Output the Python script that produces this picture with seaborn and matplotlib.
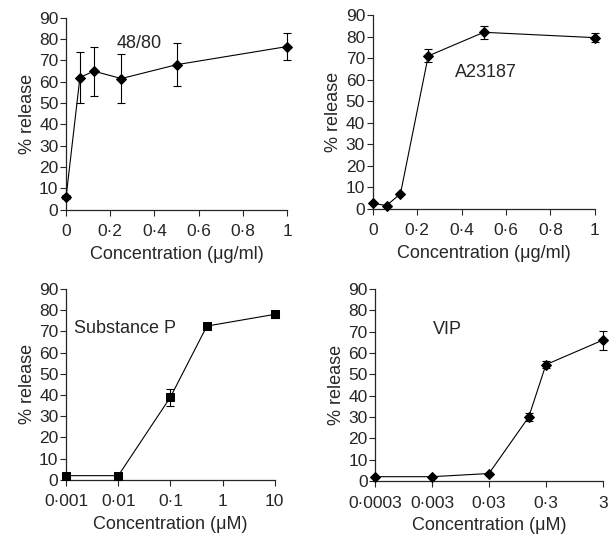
import seaborn as sns
import matplotlib.pyplot as plt
import pandas as pd

# 48/80
c4880 = [0, 0.0625, 0.125, 0.25, 0.5, 1]
r4880 = [6, 62, 65, 61.5, 68, 76.5]
e4880 = [1, 12, 11.5, 11.5, 10, 6.5]

# A23187
ca23 = [0, 0.0625, 0.125, 0.25, 0.5, 1]
ra23 = [2.5, 1.5, 7, 71, 82, 79.5]
ea23 = [0, 0, 0, 3, 3, 2]

# Substance P
csp = [0.001, 0.01, 0.1, 0.5, 10]
rsp = [2, 2, 39, 72.5, 78]
esp = [0, 0, 4, 0, 1.5]

# VIP
cvip = [0.0003, 0.003, 0.03, 0.15, 0.3, 3]
rvip = [2, 2, 3.5, 30, 54.5, 66]
evip = [0, 0, 0, 2, 1.5, 4.5]

lin_ticks = [0, 0.2, 0.4, 0.6, 0.8, 1]
lin_labels = ['0', '0·2', '0·4', '0·6', '0·8', '1']
sp_ticks = [0.001, 0.01, 0.1, 1, 10]
sp_labels = ['0·001', '0·01', '0·1', '1', '10']
vip_ticks = [0.0003, 0.003, 0.03, 0.3, 3]
vip_labels = ['0·0003', '0·003', '0·03', '0·3', '3']

sns.set_style("ticks")
plt.rcParams['font.family'] = ['Liberation Sans', 'DejaVu Sans']
plt.rcParams['font.size'] = 13

FS = 13

fig = plt.figure(figsize=(6.12, 5.38), dpi=100)
ax1 = fig.add_axes([0.108, 0.610, 0.361, 0.357])
ax2 = fig.add_axes([0.609, 0.612, 0.363, 0.360])
ax3 = fig.add_axes([0.108, 0.108, 0.341, 0.355])
ax4 = fig.add_axes([0.613, 0.106, 0.372, 0.357])


def panel(ax, x, y, e, marker, ms, label, lx, ly, log=False):
    df = pd.DataFrame({'x': x, 'y': y})
    sns.lineplot(data=df, x='x', y='y', ax=ax, color='black', lw=0.8,
                 marker=marker, markersize=ms, markeredgecolor='black',
                 clip_on=False, zorder=3)
    ax.errorbar(x, y, yerr=e, fmt='none', ecolor='black', elinewidth=0.8,
                capsize=3, capthick=0.8, clip_on=False)
    if log:
        ax.set_xscale('log')
        ax.minorticks_off()
    ax.set_ylim(0, 90)
    ax.set_yticks(range(0, 91, 10))
    ax.set_ylabel('% release', fontsize=FS, labelpad=2.5)
    ax.text(lx, ly, label, fontsize=FS, transform=ax.transData)
    ax.tick_params(length=4, width=0.8, labelsize=12.5)
    ax.tick_params(axis='y', pad=1.5)
    ax.tick_params(axis='x', pad=6.5)
    for s in ['left', 'bottom']:
        ax.spines[s].set_linewidth(0.9)
    sns.despine(ax=ax)


panel(ax1, c4880, r4880, e4880, 'D', 5.5, '48/80', 0.23, 76)
ax1.set_xlim(0, 1)
ax1.set_xticks(lin_ticks, lin_labels)
ax1.set_xlabel('Concentration (μg/ml)', fontsize=FS, labelpad=5)

panel(ax2, ca23, ra23, ea23, 'D', 5.5, 'A23187', 0.37, 61)
ax2.set_xlim(0, 1)
ax2.set_xticks(lin_ticks, lin_labels)
ax2.set_xlabel('Concentration (μg/ml)', fontsize=FS, labelpad=5)

panel(ax3, csp, rsp, esp, 's', 6, 'Substance P', 0.0014, 69, log=True)
ax3.set_xlim(0.001, 10)
ax3.set_xticks(sp_ticks, sp_labels)
ax3.set_xlabel('Concentration (μM)', fontsize=FS, labelpad=5)

panel(ax4, cvip, rvip, evip, 'D', 5.5, 'VIP', 0.0031, 69, log=True)
ax4.set_xlim(0.0003, 3)
ax4.set_xticks(vip_ticks, vip_labels)
ax4.set_xlabel('Concentration (μM)', fontsize=FS, labelpad=5)

fig.savefig('out.png', dpi=100)
